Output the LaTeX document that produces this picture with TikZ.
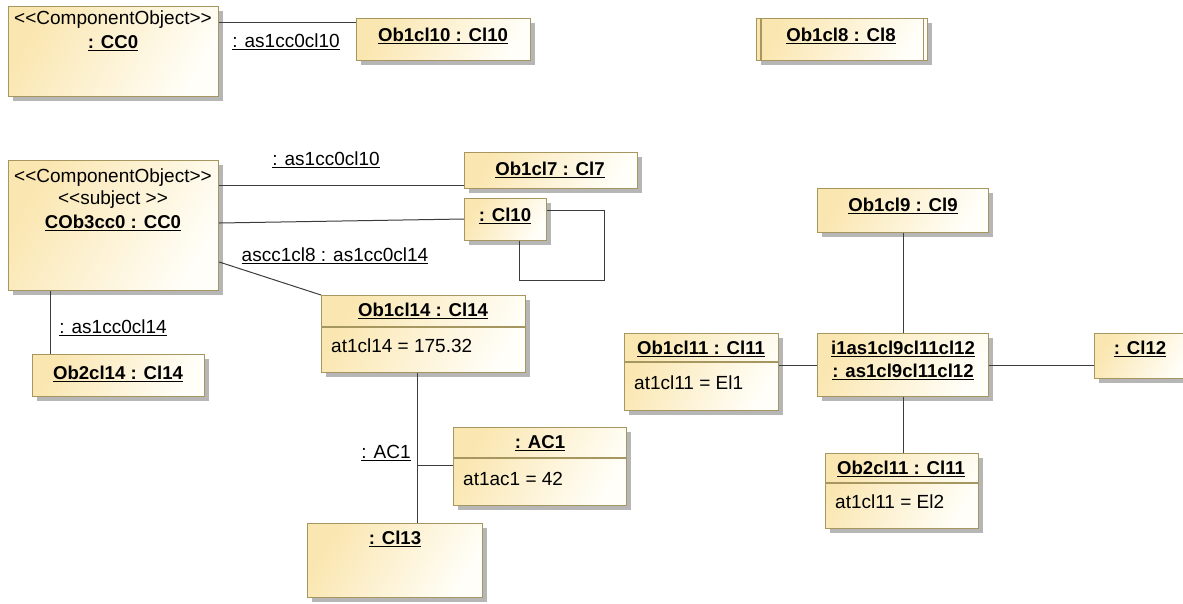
\documentclass[tikz,border=0pt]{standalone}
\usepackage{fontspec}
\setmainfont{Liberation Sans}
\usetikzlibrary{shadows,calc}

\definecolor{objfill}{RGB}{250,230,176}
\definecolor{objlight}{RGB}{255,254,248}
\definecolor{objedge}{RGB}{166,150,96}
\definecolor{shadowgray}{RGB}{182,182,182}
\definecolor{linkgray}{RGB}{60,60,60}

\newcommand{\uname}[1]{\underline{#1}}

\tikzset{
  objbox/.style={draw=objedge, line width=1.2pt, rectangle, inner sep=0pt,
    anchor=north west, left color=objfill, right color=objlight, shading angle=60,
    general shadow={shadow xshift=4pt, shadow yshift=-4pt, fill=shadowgray}},
  lbl/.style={inner sep=0pt, font=\fontsize{19}{22}\selectfont},
  hdr/.style={inner sep=0pt, font=\fontsize{18.6}{22}\selectfont\bfseries},
  attr/.style={lbl, anchor=west},
  link/.style={draw=linkgray, line width=1pt},
  sep/.style={draw=objedge, line width=1.2pt}
}

% box from (x1,y1) to (x2,y2), y measured downwards
\newcommand{\objat}[5]{%
  \node[objbox, minimum width={(#4-#2)*1pt}, minimum height={(#5-#3)*1pt}] (#1) at (#2,#3) {};}

\begin{document}
\begin{tikzpicture}[x=1pt,y=-1pt]
\useasboundingbox (0,0) rectangle (1183,603);

% object boxes
\objat{cc}{8}{6}{218}{96}
\objat{obten}{356}{18}{530}{60}
\objat{obeight}{756}{18}{927}{60}
\objat{cob}{8}{160}{218}{290}
\objat{obseven}{464}{152}{637}{188}
\objat{clten}{464}{198}{546}{240}
\objat{obfourteen}{321}{295}{525}{372}
\objat{obtwofourteen}{32}{354}{204}{396}
\objat{acone}{453}{427}{626}{505}
\objat{clthirteen}{307}{523}{482}{597}
\objat{obnine}{817}{188}{988}{232}
\objat{obeleven}{624}{333}{778}{410}
\objat{inst}{817}{333}{988}{396}
\objat{cltwelve}{1094}{333}{1190}{378}
\objat{obtwoeleven}{825}{453}{978}{528}

% active object: inner vertical borders
\draw[sep] ($(obeight.north west)+(5,0)$) -- ($(obeight.south west)+(5,0)$);
\draw[sep] ($(obeight.north east)+(-5,0)$) -- ($(obeight.south east)+(-5,0)$);

% compartment separators
\draw[sep] (obfourteen.west |- 0,327) -- (obfourteen.east |- 0,327);
\draw[sep] (acone.west |- 0,458) -- (acone.east |- 0,458);
\draw[sep] (obeleven.west |- 0,362) -- (obeleven.east |- 0,362);
\draw[sep] (obtwoeleven.west |- 0,483) -- (obtwoeleven.east |- 0,483);

% texts in boxes
\node[lbl] (ccst) at (113,20) {<\kern0pt<ComponentObject>\kern0pt>};
\node[hdr] (ccnm) at (113,43) {\uname{: CC0}};
\node[hdr] (obtennm) at (443,36) {\uname{Ob1cl10 : Cl10}};
\node[hdr] (obeightnm) at (841,36) {\uname{Ob1cl8 : Cl8}};
\node[lbl] (cobst) at (113,178) {<\kern0pt<ComponentObject>\kern0pt>};
\node[lbl] (cobsb) at (113,200) {<\kern0pt<subject >\kern0pt>};
\node[hdr] (cobnm) at (113,223) {\uname{COb3cc0 : CC0}};
\node[hdr] (obsevennm) at (550,170) {\uname{Ob1cl7 : Cl7}};
\node[hdr] (cltennm) at (505,216) {\uname{: Cl10}};
\node[hdr] (obfourteennm) at (423,311) {\uname{Ob1cl14 : Cl14}};
\node[attr] (obfourteenat) at (331,346) {at1cl14 = 175.32};
\node[hdr] (obtwofourteennm) at (118,374) {\uname{Ob2cl14 : Cl14}};
\node[hdr] (aconenm) at (540,443) {\uname{: AC1}};
\node[attr] (aconeat) at (463,479) {at1ac1 = 42};
\node[hdr] (clthirteennm) at (395,539) {\uname{: Cl13}};
\node[hdr] (obninenm) at (903,206) {\uname{Ob1cl9 : Cl9}};
\node[hdr] (obelevennm) at (701,349) {\uname{Ob1cl11 : Cl11}};
\node[attr] (obelevenat) at (634,383) {at1cl11 = El1};
\node[hdr] (instnm) at (903,349) {\uname{i1as1cl9cl11cl12}};
\node[hdr] (insttp) at (903,372) {\uname{: as1cl9cl11cl12}};
\node[hdr] (cltwelvenm) at (1140,349) {\uname{: Cl12}};
\node[hdr] (obtwoelevennm) at (901,469) {\uname{Ob2cl11 : Cl11}};
\node[attr] (obtwoelevenat) at (835,502) {at1cl11 = El2};

% links
\draw[link] (cc.east |- 0,22) -- (obten.west |- 0,22);
\draw[link] (cob.east |- 0,185) -- (obseven.west |- 0,185);
\draw[link] (cob.east |- 0,223) -- (clten.west |- 0,219);
\draw[link] (cob.east |- 0,262) -- (obfourteen.north west);
\draw[link] (cob.south -| 50,0) -- (obtwofourteen.north -| 50,0);
\coordinate (loopa) at (604,210);
\coordinate (loopb) at (519,280);
\draw[link] (clten.east |- loopa) -- (loopa) -- (loopa |- loopb) -- (loopb) -- (loopb |- clten.south);
\coordinate (acjoin) at (417,465);
\draw[link] (obfourteen.south -| acjoin) -- (clthirteen.north -| acjoin);
\draw[link] (acjoin) -- (acone.west |- acjoin);
\draw[link] (obnine.south -| 903,0) -- (inst.north -| 903,0);
\draw[link] (obeleven.east |- 0,365) -- (inst.west |- 0,365);
\draw[link] (inst.east |- 0,365) -- (cltwelve.west |- 0,365);
\draw[link] (inst.south -| 903,0) -- (obtwoeleven.north -| 903,0);

% link labels
\node[lbl] (lka) at (286,42) {\uname{: as1cc0cl10}};
\node[lbl] (lkb) at (326,160) {\uname{: as1cc0cl10}};
\node[lbl] (lkc) at (335,256) {\uname{ascc1cl8 : as1cc0cl14}};
\node[lbl] (lkd) at (113,328) {\uname{: as1cc0cl14}};
\node[lbl] (lke) at (386,453) {\uname{: AC1}};
\end{tikzpicture}
\end{document}
